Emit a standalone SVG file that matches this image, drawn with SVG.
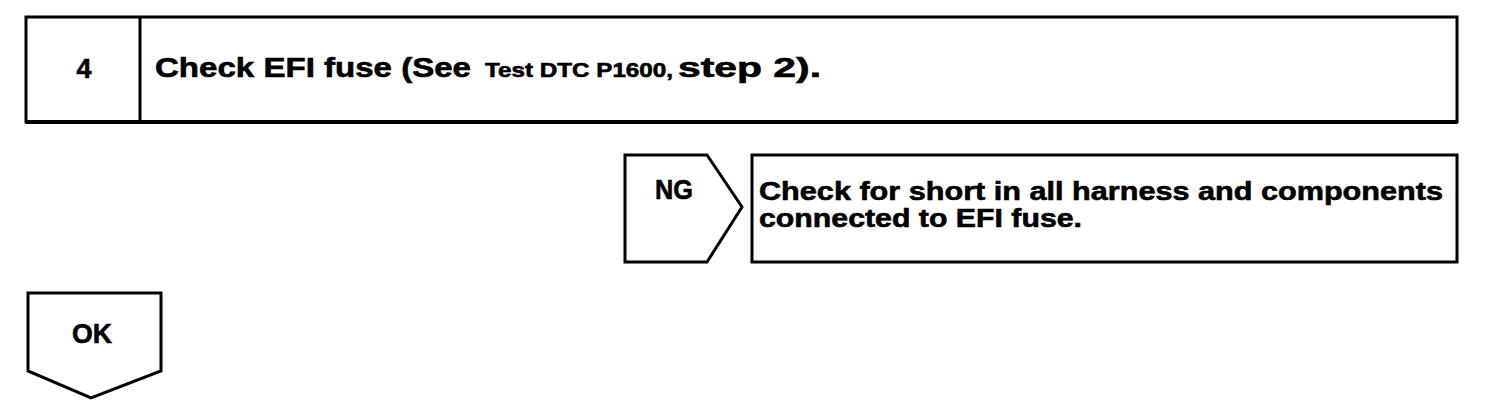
<svg xmlns="http://www.w3.org/2000/svg" width="1504" height="418" viewBox="0 0 1504 418">
<style>
.box{fill:#fff;stroke:#000;stroke-width:3;stroke-linejoin:miter}
.t{font-family:"Liberation Sans",Arial,sans-serif;font-weight:bold;fill:#000;stroke:#000;stroke-width:0.6}
</style>
<rect width="1504" height="418" fill="#fff"/>
<g id="step4">
<rect class="box" x="26" y="17" width="1431" height="105"/>
<line x1="26" y1="122" x2="1457" y2="122" stroke="#000" stroke-width="4"/>
<line x1="140" y1="17" x2="140" y2="122" stroke="#000" stroke-width="3"/>
<text class="t" x="84" y="78" font-size="27" text-anchor="middle">4</text>
<text class="t" y="77" font-size="27"><tspan x="155" textLength="316" lengthAdjust="spacingAndGlyphs">Check EFI fuse (See</tspan><tspan x="485" font-size="20" textLength="188" lengthAdjust="spacingAndGlyphs">Test DTC P1600,</tspan><tspan x="678" textLength="143" lengthAdjust="spacingAndGlyphs">step 2).</tspan></text>
</g>
<g id="ng">
<polygon class="box" points="625,155 707,155 742,207 707,262 625,262"/>
<text class="t" x="674" y="199" font-size="27" text-anchor="middle" textLength="38" lengthAdjust="spacingAndGlyphs">NG</text>
</g>
<g id="action">
<rect class="box" x="752" y="155" width="705" height="107"/>
<text class="t" font-size="26"><tspan x="759" y="200" textLength="684" lengthAdjust="spacingAndGlyphs">Check for short in all harness and components</tspan><tspan x="759" y="227" textLength="323" lengthAdjust="spacingAndGlyphs">connected to EFI fuse.</tspan></text>
</g>
<g id="ok">
<polygon class="box" points="28,293 161,293 161,371 91,398 28,371"/>
<text class="t" x="92" y="343" font-size="27" text-anchor="middle" textLength="40" lengthAdjust="spacingAndGlyphs">OK</text>
</g>
<g id="connectors"></g>
</svg>
